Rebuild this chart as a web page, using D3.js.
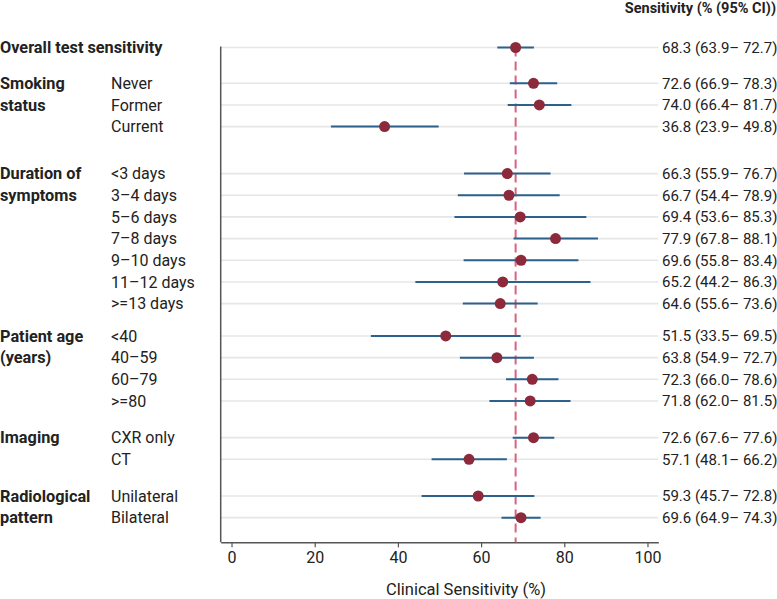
<!DOCTYPE html>
<html>
<head>
<meta charset="utf-8">
<script src="https://cdn.jsdelivr.net/npm/d3@7"></script>
<style>
  html, body { margin: 0; padding: 0; background: #fff; }
  svg { display: block; font-family: Roboto, "Noto Sans", sans-serif; }
</style>
</head>
<body>
<svg id="chart" width="777" height="599"></svg>
<script>
// ---- data ----
const groups = ["Overall test sensitivity", "Smoking\nstatus", "Duration of\nsymptoms", "Patient age\n(years)", "Imaging", "Radiological\npattern"];
const groupOf = [0, 1, 1, 1, 2, 2, 2, 2, 2, 2, 2, 3, 3, 3, 3, 4, 4, 5, 5];
const subLabels = ["", "Never", "Former", "Current", "<3 days", "3\u20134 days", "5\u20136 days", "7\u20138 days", "9\u201310 days", "11\u201312 days", ">=13 days", "<40", "40\u201359", "60\u201379", ">=80", "CXR only", "CT", "Unilateral", "Bilateral"];
const estimate = [68.3, 72.6, 74.0, 36.8, 66.3, 66.7, 69.4, 77.9, 69.6, 65.2, 64.6, 51.5, 63.8, 72.3, 71.8, 72.6, 57.1, 59.3, 69.6];
const lower    = [63.9, 66.9, 66.4, 23.9, 55.9, 54.4, 53.6, 67.8, 55.8, 44.2, 55.6, 33.5, 54.9, 66.0, 62.0, 67.6, 48.1, 45.7, 64.9];
const upper    = [72.7, 78.3, 81.7, 49.8, 76.7, 78.9, 85.3, 88.1, 83.4, 86.3, 73.6, 69.5, 72.7, 78.6, 81.5, 77.6, 66.2, 72.8, 74.3];
const overallRef = 68.3;
const xTicks = [0, 20, 40, 60, 80, 100];
const xTitle = "Clinical Sensitivity (%)";
const colTitle = "Sensitivity (% (95% CI))";

// ---- layout ----
const svg = d3.select("#chart");
const rowStep = 21.67;
const groupGapAfter = [14.1, 25.3, 10.7, 15, 15, 0]; // extra space after each group
const firstRowY = 47.5;
const ys = [];
{
  let y = firstRowY;
  for (let i = 0; i < estimate.length; i++) {
    if (i > 0) {
      y += rowStep;
      if (groupOf[i] !== groupOf[i - 1]) y += groupGapAfter[groupOf[i - 1]];
    }
    ys.push(y);
  }
}
const axisY = 542.3;
const x = d3.scaleLinear().domain([-2.6, 102.6]).range([220.7, 658.3]);

// gridlines
svg.append("g").selectAll("line").data(ys).join("line")
  .attr("x1", x.range()[0]).attr("x2", x.range()[1])
  .attr("y1", d => d).attr("y2", d => d)
  .attr("stroke", "#e6e6e6").attr("stroke-width", 1.6);

// x axis
const xAxis = svg.append("g").attr("transform", `translate(0,${axisY})`)
  .call(d3.axisBottom(x).tickValues(xTicks).tickSize(5).tickSizeOuter(0).tickPadding(4));
xAxis.select(".domain").attr("stroke", "#555").attr("stroke-width", 1.5);
xAxis.selectAll(".tick line").attr("stroke", "#555").attr("stroke-width", 1.2);
xAxis.selectAll(".tick text").attr("font-size", 16).attr("fill", "#222")
  .attr("font-family", "Roboto, sans-serif");

// y axis line
svg.append("line")
  .attr("x1", x.range()[0]).attr("x2", x.range()[0])
  .attr("y1", ys[0] - 1).attr("y2", axisY)
  .attr("stroke", "#555").attr("stroke-width", 1.5);

// reference line
svg.append("line")
  .attr("x1", x(overallRef)).attr("x2", x(overallRef))
  .attr("y1", ys[0]).attr("y2", axisY)
  .attr("stroke", "#d9637f").attr("stroke-width", 2)
  .attr("stroke-dasharray", "9,5");

// CI lines
svg.append("g").selectAll("line").data(estimate).join("line")
  .attr("x1", (d, i) => x(lower[i])).attr("x2", (d, i) => x(upper[i]))
  .attr("y1", (d, i) => ys[i]).attr("y2", (d, i) => ys[i])
  .attr("stroke", "#2b618c").attr("stroke-width", 2);

// points
svg.append("g").selectAll("circle").data(estimate).join("circle")
  .attr("cx", d => x(d)).attr("cy", (d, i) => ys[i]).attr("r", 5.5)
  .attr("fill", "#8c2a3b");

// right labels
const fmt = d3.format(".1f");
svg.append("g").selectAll("text").data(estimate).join("text")
  .attr("x", 662).attr("y", (d, i) => ys[i]).attr("dy", "0.35em")
  .attr("font-size", 15).attr("fill", "#222")
  .text((d, i) => `${fmt(d)} (${fmt(lower[i])}\u2013 ${fmt(upper[i])})`);

svg.append("text").attr("x", 776).attr("y", 12.5).attr("text-anchor", "end")
  .attr("font-size", 14.5).attr("font-weight", "bold").attr("fill", "#222")
  .text(colTitle);

// left sub labels
svg.append("g").selectAll("text").data(subLabels).join("text")
  .attr("x", 111).attr("y", (d, i) => ys[i]).attr("dy", "0.35em")
  .attr("font-size", 16).attr("fill", "#222")
  .text(d => d);

// group labels
groups.forEach((g, gi) => {
  const first = groupOf.indexOf(gi);
  const t = svg.append("text").attr("x", 0).attr("y", ys[first])
    .attr("font-size", 16.3).attr("font-weight", "bold").attr("fill", "#222");
  g.split("\n").forEach((line, li) => {
    t.append("tspan").attr("x", 0).attr("dy", li === 0 ? "0.35em" : rowStep + "px").text(line);
  });
});

// x title
svg.append("text").attr("x", 466).attr("y", 589).attr("dy", "0.35em")
  .attr("text-anchor", "middle").attr("font-size", 16.5).attr("fill", "#222")
  .text(xTitle);
</script>
</body>
</html>
